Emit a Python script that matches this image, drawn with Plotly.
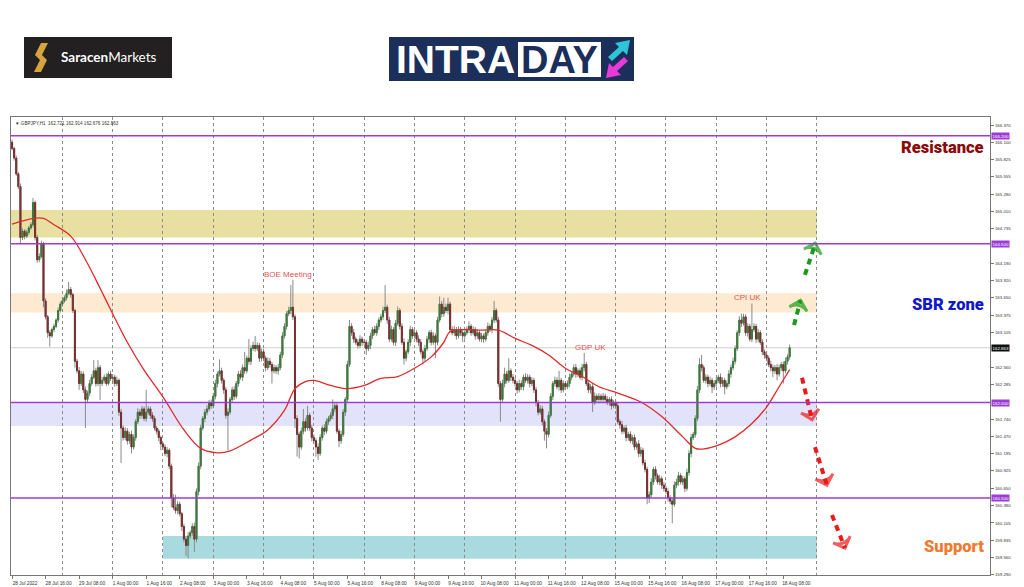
import plotly.graph_objects as go

# ---------------- data ----------------
symbol_header = "\u25bc GBPJPY,H1  162.721 162.914 162.676 162.863"

tick_pos = [0, 16, 32, 48, 64, 80, 96, 112, 128, 144, 160, 176, 192, 208,
            224, 240, 256, 272, 288, 304, 320, 336, 352, 368]
tick_text = ["28 Jul 2022", "28 Jul 16:00", "29 Jul 08:00", "1 Aug 00:00",
             "1 Aug 16:00", "2 Aug 08:00", "3 Aug 00:00", "3 Aug 16:00",
             "4 Aug 08:00", "5 Aug 00:00", "5 Aug 16:00", "8 Aug 08:00",
             "9 Aug 00:00", "9 Aug 16:00", "10 Aug 08:00", "11 Aug 00:00",
             "11 Aug 16:00", "12 Aug 08:00", "15 Aug 00:00", "15 Aug 16:00",
             "16 Aug 08:00", "17 Aug 00:00", "17 Aug 16:00", "18 Aug 08:00"]
day_starts = [24, 48, 72, 96, 120, 144, 168, 192, 216, 240, 264, 288,
              312, 336, 360, 384]

price_ticks = [166.370, 166.100, 165.825, 165.555, 165.280, 165.010, 164.735,
               164.190, 163.920, 163.650, 163.375, 163.105, 162.560, 162.285,
               161.740, 161.470, 161.195, 160.925, 160.650, 160.380, 160.105,
               159.835, 159.560, 159.290]

first_open = 166.10
closes = [
    # 28 Jul
    166.00, 165.85, 165.60, 165.40, 164.60, 164.70, 164.62, 164.68, 164.75, 164.80, 165.15, 164.60,
    164.25, 164.30, 164.50, 163.60, 163.35, 163.10, 163.05, 163.15, 163.20, 163.30, 163.45, 163.55,
    # 29 Jul
    163.60, 163.65, 163.72, 163.78, 163.70, 163.45, 162.65, 162.50, 162.30, 162.45, 162.20, 162.05,
    162.15, 162.30, 162.40, 162.50, 162.30, 162.55, 162.30, 162.35, 162.40, 162.30, 162.45, 162.38,
    # 1 Aug
    162.40, 162.30, 162.35, 161.85, 161.60, 161.45, 161.55, 161.40, 161.50, 161.30, 161.45, 161.70,
    161.85, 161.80, 161.90, 161.75, 161.85, 161.90, 161.80, 161.75, 161.60, 161.55, 161.45, 161.35,
    # 2 Aug
    161.30, 161.20, 161.25, 161.00, 160.50, 160.35, 160.30, 160.40, 160.25, 160.05, 159.85, 159.75,
    159.90, 159.95, 160.05, 159.85, 160.60, 161.00, 161.60, 161.75, 161.85, 161.90, 162.00, 161.95,
    # 3 Aug
    162.10, 162.30, 162.45, 162.50, 162.35, 162.20, 161.80, 161.85, 162.05, 162.20, 162.10, 162.30,
    162.45, 162.40, 162.55, 162.50, 162.70, 162.65, 162.85, 162.90, 162.85, 162.90, 162.70, 162.80,
    # 4 Aug
    162.70, 162.55, 162.65, 162.60, 162.50, 162.55, 162.50, 162.55, 162.75, 163.05, 163.20, 163.40,
    163.45, 163.50, 163.35, 161.75, 161.50, 161.30, 161.55, 161.70, 161.60, 161.80, 161.60, 161.45,
    # 5 Aug
    161.40, 161.30, 161.20, 161.45, 161.60, 161.55, 161.70, 161.75, 161.80, 161.90, 161.95, 161.55,
    161.40, 161.50, 161.85, 162.05, 162.60, 163.20, 163.10, 163.00, 162.95, 162.90, 163.00, 162.95,
    # 8 Aug
    162.95, 162.85, 162.90, 163.05, 163.15, 163.10, 163.20, 163.30, 163.35, 163.45, 163.50, 163.30,
    163.00, 163.15, 162.95, 163.25, 163.45, 163.20, 162.95, 162.70, 162.80, 162.95, 163.15, 163.05,
    # 9 Aug
    163.10, 163.00, 162.95, 162.80, 162.70, 162.85, 163.00, 163.10, 162.95, 163.05, 162.95, 163.30,
    163.55, 163.40, 163.50, 163.45, 163.55, 163.15, 163.10, 163.15, 163.05, 163.15, 163.10, 163.05,
    # 10 Aug
    163.10, 163.15, 163.20, 163.10, 163.15, 163.05, 163.10, 163.00, 163.05, 163.00, 163.10, 163.20,
    163.15, 163.30, 163.45, 163.30, 162.30, 162.05, 162.30, 162.45, 162.35, 162.50, 162.40, 162.35,
    # 11 Aug
    162.30, 162.20, 162.30, 162.25, 162.40, 162.35, 162.40, 162.30, 162.35, 162.20, 162.00, 161.85,
    161.90, 161.70, 161.55, 161.50, 161.80, 162.10, 162.30, 162.35, 162.25, 162.35, 162.20, 162.30,
    # 12 Aug
    162.25, 162.30, 162.40, 162.45, 162.55, 162.45, 162.50, 162.40, 162.55, 162.60, 162.30, 162.20,
    162.25, 162.00, 162.10, 162.05, 162.10, 162.05, 162.10, 162.05, 162.00, 162.05, 161.95, 162.00,
    # 15 Aug
    161.95, 161.70, 161.65, 161.55, 161.60, 161.45, 161.50, 161.40, 161.45, 161.30, 161.35, 161.20,
    161.25, 161.05, 160.95, 160.50, 160.55, 160.75, 160.95, 160.85, 160.75, 160.80, 160.70, 160.65,
    # 16 Aug
    160.60, 160.50, 160.45, 160.40, 160.70, 160.75, 160.85, 160.75, 160.80, 160.65, 160.90, 161.20,
    161.45, 161.50, 161.75, 162.20, 162.60, 162.55, 162.35, 162.40, 162.30, 162.35, 162.25, 162.30,
    # 17 Aug
    162.35, 162.40, 162.30, 162.35, 162.25, 162.30, 162.45, 162.55, 162.65, 162.85, 163.10, 163.30,
    163.25, 163.35, 163.10, 163.20, 163.00, 163.15, 163.20, 163.00, 163.10, 162.95, 162.80, 162.75,
    # 18 Aug
    162.70, 162.60, 162.55, 162.50, 162.55, 162.45, 162.55, 162.60, 162.50, 162.65, 162.721, 162.863,
]

# upper / lower wick lengths (hundredths of a yen)
wick_up = [
    4, 3, 4, 3, 5, 4, 3, 4, 3, 4, 7, 3, 4, 5, 5, 3, 4, 3, 4, 3, 4, 3, 5, 4,
    5, 4, 6, 12, 4, 3, 3, 4, 6, 5, 4, 5, 4, 6, 5, 17, 5, 12, 4, 5, 4, 6, 4, 5,
    5, 4, 6, 3, 5, 4, 6, 5, 4, 6, 5, 4, 6, 5, 5, 4, 35, 5, 4, 5, 4, 3, 4, 3,
    3, 4, 5, 3, 4, 6, 20, 5, 4, 3, 4, 5, 6, 4, 5, 6, 5, 6, 5, 4, 5, 6, 4, 5,
    5, 6, 4, 18, 5, 4, 5, 6, 4, 5, 6, 4, 5, 6, 5, 25, 4, 30, 5, 6, 15, 5, 4, 5,
    5, 4, 6, 5, 4, 5, 4, 6, 5, 6, 5, 4, 6, 35, 43, 4, 5, 4, 6, 20, 5, 15, 4, 5,
    5, 4, 6, 5, 4, 6, 5, 4, 5, 15, 4, 5, 4, 6, 5, 4, 6, 10, 5, 6, 4, 5, 6, 4,
    5, 4, 6, 5, 4, 6, 5, 4, 5, 6, 35, 4, 5, 6, 4, 5, 6, 4, 5, 6, 4, 5, 6, 4,
    5, 4, 6, 5, 4, 6, 5, 4, 5, 6, 4, 5, 12, 5, 15, 6, 10, 4, 5, 6, 4, 5, 4, 5,
    4, 5, 8, 4, 5, 4, 5, 4, 5, 4, 5, 6, 4, 5, 15, 4, 5, 4, 6, 10, 5, 20, 4, 5,
    5, 4, 6, 5, 4, 6, 5, 4, 5, 4, 5, 4, 6, 5, 4, 5, 6, 5, 4, 6, 5, 15, 4, 5,
    4, 5, 6, 4, 5, 6, 4, 5, 6, 18, 4, 5, 4, 5, 6, 4, 5, 4, 5, 4, 5, 4, 5, 4,
    4, 5, 4, 6, 4, 5, 4, 5, 4, 5, 4, 6, 5, 4, 5, 4, 5, 6, 4, 5, 4, 6, 4, 5,
    4, 5, 4, 5, 6, 5, 6, 4, 5, 4, 6, 5, 6, 4, 5, 6, 10, 15, 4, 5, 4, 6, 4, 5,
    5, 4, 6, 5, 4, 5, 6, 5, 6, 5, 4, 6, 10, 5, 4, 5, 4, 41, 5, 4, 6, 4, 5, 4,
    5, 4, 6, 5, 4, 6, 5, 4, 5, 6, 4, 5.1,
]
wick_dn = [
    3, 4, 3, 4, 10, 4, 5, 3, 4, 3, 4, 5, 5, 4, 3, 10, 4, 8, 17, 3, 4, 3, 4, 3,
    4, 3, 4, 3, 5, 4, 10, 4, 10, 4, 5, 45, 4, 5, 4, 3, 5, 4, 26, 4, 5, 4, 3, 4,
    4, 5, 4, 6, 55, 5, 4, 6, 5, 10, 4, 5, 4, 6, 5, 4, 5, 4, 6, 5, 4, 5, 6, 10,
    5, 4, 6, 5, 15, 4, 5, 6, 4, 7, 5, 17, 20, 4, 5, 20, 5, 6, 5, 4, 6, 5, 4, 5,
    4, 5, 6, 4, 5, 6, 5, 55, 4, 5, 6, 4, 5, 4, 6, 5, 4, 5, 6, 4, 5, 4, 6, 5,
    5, 6, 4, 5, 20, 4, 5, 6, 4, 5, 4, 5, 4, 6, 5, 15, 35, 18, 4, 5, 6, 4, 5, 6,
    5, 15, 10, 4, 5, 6, 4, 5, 4, 6, 5, 4, 10, 5, 4, 6, 5, 4, 5, 6, 4, 5, 4, 6,
    5, 10, 4, 6, 5, 4, 5, 6, 4, 5, 4, 6, 5, 4, 5, 6, 4, 5, 4, 10, 5, 4, 6, 5,
    4, 5, 6, 4, 10, 5, 4, 6, 5, 4, 25, 5, 4, 6, 5, 4, 6, 5, 4, 5, 6, 4, 5, 10,
    5, 4, 6, 5, 4, 6, 5, 4, 5, 6, 4, 5, 4, 6, 5, 4, 5, 35, 4, 6, 5, 4, 6, 5,
    5, 6, 4, 5, 6, 4, 5, 6, 4, 5, 6, 5, 4, 6, 15, 22, 5, 4, 6, 5, 4, 6, 5, 4,
    5, 4, 6, 5, 4, 6, 5, 4, 5, 6, 4, 5, 6, 15, 4, 5, 6, 4, 5, 6, 4, 5, 6, 4,
    5, 4, 6, 5, 4, 6, 5, 4, 6, 5, 4, 6, 5, 4, 5, 10, 8, 4, 5, 6, 4, 5, 6, 5,
    4, 6, 5, 30, 4, 5, 6, 4, 5, 6, 4, 5, 6, 4, 5, 4, 5, 6, 4, 5, 6, 4, 10, 5,
    5, 4, 6, 5, 12, 4, 5, 6, 4, 5, 4, 5, 6, 4, 5, 6, 4, 5, 4, 6, 5, 4, 5, 6,
    5, 4, 6, 10, 5, 10, 4, 5, 20, 4, 5, 4.5,
]

# moving average read at sample bars
ma_bar = [0, 5, 10, 15, 20, 28, 36, 42, 48, 55, 63, 72, 82, 90, 98, 104, 114,
          122, 130, 135, 140, 144, 152, 160, 168, 176, 184, 192, 200, 206, 209,
          216, 224, 232, 240, 248, 256, 264, 272, 280, 289, 300, 310, 320, 326,
          330, 337, 345, 353, 360, 366, 371]
ma_val = [164.81, 164.86, 164.90, 164.90, 164.80, 164.62, 164.19, 163.80,
          163.40, 162.95, 162.51, 162.09, 161.57, 161.28, 161.21, 161.24,
          161.41, 161.57, 161.88, 162.22, 162.33, 162.35, 162.27, 162.22,
          162.27, 162.38, 162.41, 162.54, 162.72, 162.95, 163.12, 163.15,
          163.14, 163.14, 163.01, 162.90, 162.75, 162.54, 162.41, 162.25,
          162.15, 162.01, 161.78, 161.46, 161.28, 161.27, 161.33, 161.46,
          161.67, 161.93, 162.25, 162.52]

level_prices = [166.20, 164.50, 162.00, 160.50]
last_price = 162.863

zone_from = [-0.5, -0.5, -0.5, 72]
zone_to = [384, 384, 384, 384]
zone_lo = [164.60, 163.42, 161.63, 159.54]
zone_hi = [165.03, 163.72, 161.99, 159.90]

event_text = ["BOE Meeting", "GDP UK", "CPI UK"]
event_bar = [131.7, 276.2, 350.7]
event_price = [164.02, 162.86, 163.65]

side_text = ["Resistance", "SBR zone", "Support"]
side_price = [166.02, 163.54, 159.73]

arrow_x0 = [373.1, 378.3, 376.9, 383.1, 391.2]
arrow_y0 = [163.22, 164.01, 162.39, 161.30, 160.23]
arrow_x1 = [376.2, 383.3, 381.7, 388.8, 397.4]
arrow_y1 = [163.61, 164.51, 161.73, 160.70, 159.71]
arrow_up = [True, True, False, False, False]

# ---------------- styles ----------------
W, H = 1024, 587
L, R, T, B = 11, 34, 117, 12
PW, PH = W - L - R, H - T - B


def px(x):
    return (x - L) / PW


def py(y):
    return (H - B - y) / PH


WICK = "#8a8a8a"
UP = "#3b7a3b"
DN = "#7a3030"
PURPLE = "#9d3bd6"
SMALL = "Liberation Sans, Arial, sans-serif"
HEAVY = "Roboto, Liberation Sans, Arial, sans-serif"
zone_colors = ["rgba(232,224,160,1)", "rgba(253,234,208,1)",
               "rgba(226,226,250,1)", "rgba(168,218,224,1)"]
side_colors = ["#8b0a0a", "#1018c8", "#f07a30"]

# ---------------- build ----------------
n = len(closes)
bars = list(range(n))
opens = [first_open] + closes[:-1]
highs = [max(o, c) + u / 100 for o, c, u in zip(opens, closes, wick_up)]
lows = [min(o, c) - d / 100 for o, c, d in zip(opens, closes, wick_dn)]
body_hi = [max(o, c) for o, c in zip(opens, closes)]
body_lo = [min(o, c) for o, c in zip(opens, closes)]

fig = go.Figure()
fig.add_trace(go.Candlestick(
    x=bars, open=opens, high=highs, low=lows, close=closes,
    increasing=dict(line=dict(color=WICK, width=1), fillcolor=WICK),
    decreasing=dict(line=dict(color=WICK, width=1), fillcolor=WICK),
    hoverinfo="skip", showlegend=False))
fig.add_trace(go.Candlestick(
    x=bars, open=opens, high=body_hi, low=body_lo, close=closes,
    increasing=dict(line=dict(color=UP, width=1), fillcolor=UP),
    decreasing=dict(line=dict(color=DN, width=1), fillcolor=DN),
    hoverinfo="skip", showlegend=False))
fig.add_trace(go.Scatter(
    x=ma_bar, y=ma_val, mode="lines", line=dict(color="#e02a2a", width=1.3, shape="spline"),
    hoverinfo="skip", showlegend=False))

for x0, y0, x1, y1, up in zip(arrow_x0, arrow_y0, arrow_x1, arrow_y1, arrow_up):
    col = "#1a9a1a" if up else "#e81a1a"
    fig.add_trace(go.Scatter(
        x=[x0, x1], y=[y0, y1], mode="lines+markers",
        line=dict(color=col, width=4, dash="6px,5px"),
        marker=dict(symbol=["circle", "arrow-wide-open"], size=[0, 13], angleref="previous",
                    color=col, line=dict(color=col, width=3)),
        hoverinfo="skip", showlegend=False))

shapes = []
for x0, x1, lo, hi, col in zip(zone_from, zone_to, zone_lo, zone_hi, zone_colors):
    shapes.append(dict(type="rect", xref="x", yref="y", x0=x0, x1=x1, y0=lo, y1=hi,
                       fillcolor=col, line=dict(width=0), layer="below"))
shapes.append(dict(type="line", xref="paper", yref="y", x0=0, x1=1, y0=last_price,
                   y1=last_price, line=dict(color="#cfcfcf", width=1), layer="below"))
for lv in level_prices:
    shapes.append(dict(type="line", xref="paper", yref="y", x0=0, x1=1, y0=lv, y1=lv,
                       line=dict(color=PURPLE, width=1.5), layer="above"))

# logos (paper coordinates from pixels)
shapes.append(dict(type="rect", xref="paper", yref="paper", x0=px(24), x1=px(172),
                   y0=py(78), y1=py(37), fillcolor="#232021", line=dict(width=0)))
s_path = [(41, 43), (48, 43), (42, 55), (47, 60), (41, 72), (34, 72), (40, 60), (35, 55)]
shapes.append(dict(type="path", xref="paper", yref="paper",
                   path="M" + " L".join(f"{px(a):.5f},{py(b):.5f}" for a, b in s_path) + " Z",
                   fillcolor="#d6a43c", line=dict(width=0)))
shapes.append(dict(type="rect", xref="paper", yref="paper", x0=px(389), x1=px(634),
                   y0=py(81), y1=py(37), fillcolor="#1b2f5a", line=dict(width=0)))
shapes.append(dict(type="rect", xref="paper", yref="paper", x0=px(518), x1=px(601),
                   y0=py(77), y1=py(42), fillcolor="white", line=dict(width=0)))
cyan = [(608, 57), (619, 47), (615, 43), (630, 40), (627, 55), (623, 51), (612, 61)]
mag = [(628, 61), (617, 71), (621, 75), (606, 78), (609, 63), (613, 67), (624, 57)]
for pts, col in ((cyan, "#2cc6d8"), (mag, "#e83ad8")):
    shapes.append(dict(type="path", xref="paper", yref="paper",
                       path="M" + " L".join(f"{px(a):.5f},{py(b):.5f}" for a, b in pts) + " Z",
                       fillcolor=col, line=dict(width=0)))

ann = []
ann.append(dict(xref="paper", yref="paper", x=px(13), y=py(123), xanchor="left",
                yanchor="middle", text=symbol_header, showarrow=False,
                font=dict(family=SMALL, size=4.6, color="#333")))
for t, b, p in zip(event_text, event_bar, event_price):
    ann.append(dict(xref="x", yref="y", x=b, y=p, text=t, showarrow=False,
                    font=dict(family=SMALL, size=8, color="#e05252")))
for t, p, c in zip(side_text, side_price, side_colors):
    ann.append(dict(xref="paper", yref="y", x=px(986), y=p, xanchor="right", text=t,
                    showarrow=False, font=dict(family=HEAVY, size=16.5, color=c, weight=900)))
for lv in level_prices:
    ann.append(dict(xref="paper", yref="y", x=1, y=lv, xanchor="left", xshift=1,
                    text=f"{lv:.3f}", showarrow=False, bgcolor=PURPLE, borderpad=0.5,
                    font=dict(family=SMALL, size=4.4, color="white")))
ann.append(dict(xref="paper", yref="y", x=1, y=last_price, xanchor="left", xshift=1,
                text=f"{last_price:.3f}", showarrow=False, bgcolor="#111", borderpad=0.5,
                font=dict(family=SMALL, size=4.4, color="white")))
# logo texts
ann.append(dict(xref="paper", yref="paper", x=px(59), y=py(57.5), xanchor="left",
                yanchor="middle", text="<b>Saracen</b>Markets", showarrow=False,
                font=dict(family="Lato, Open Sans, sans-serif", size=13.5, color="white")))
ann.append(dict(xref="paper", yref="paper", x=px(394), y=py(60), xanchor="left",
                yanchor="middle", text="<b>INTRA</b>", showarrow=False,
                font=dict(family=SMALL, size=39, color="white")))
ann.append(dict(xref="paper", yref="paper", x=px(559.5), y=py(60), xanchor="center",
                yanchor="middle", text="<b>DAY</b>", showarrow=False,
                font=dict(family=SMALL, size=38, color="#1b2f5a")))

fig.update_layout(
    width=W, height=H, margin=dict(l=L, r=R, t=T, b=B, autoexpand=False),
    paper_bgcolor="white", plot_bgcolor="white", showlegend=False,
    shapes=shapes, annotations=ann,
    xaxis=dict(range=[-0.5, 466.6], rangeslider=dict(visible=False), automargin=False,
               tickmode="array", tickvals=tick_pos, ticktext=tick_text,
               ticks="outside", ticklen=3, tickcolor="#777", ticklabelshift=13,
               tickfont=dict(family=SMALL, size=4.8, color="#333"),
               showgrid=False, zeroline=False, showline=True, mirror=True,
               linecolor="#777", linewidth=1,
               minor=dict(tickmode="array", tickvals=day_starts, showgrid=True,
                          gridcolor="#8c8c8c", griddash="dot", gridwidth=1, ticks="")),
    yaxis=dict(range=[159.286, 166.496], side="right", tickmode="array", automargin=False,
               tickvals=price_ticks, ticktext=[f"{v:.3f}" for v in price_ticks],
               ticks="outside", ticklen=3, tickcolor="#777",
               tickfont=dict(family=SMALL, size=4.4, color="#333"),
               showgrid=False, zeroline=False, showline=True, mirror=True,
               linecolor="#777", linewidth=1),
)

fig.write_html("out.html", config={"displayModeBar": False},
               post_script="document.body.style.margin='0';")
